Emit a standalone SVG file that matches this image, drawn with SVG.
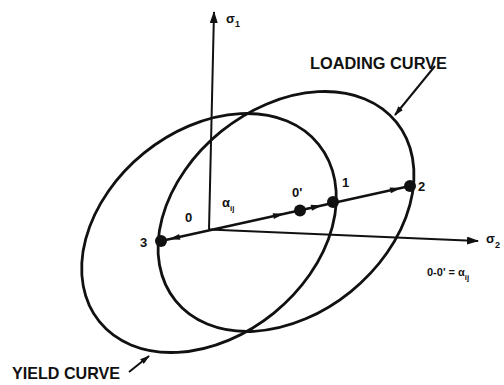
<svg xmlns="http://www.w3.org/2000/svg" xmlns:xlink="http://www.w3.org/1999/xlink" width="504" height="385" viewBox="0 0 504 385">
<style>
.curve{fill:none;stroke:#111;stroke-width:2.8}
.axis{fill:none;stroke:#111;stroke-width:2}
.vec{fill:none;stroke:#111;stroke-width:2.4}
.ptr{fill:none;stroke:#111;stroke-width:2}
.dot{fill:#111}
.t{font-family:"Liberation Sans",Arial,sans-serif;font-weight:bold;fill:#111}
</style>
<defs>
<marker id="axarr" viewBox="0 0 12 8" refX="11" refY="4" markerUnits="userSpaceOnUse" markerWidth="12" markerHeight="8" orient="auto"><path d="M0,0 L12,4 L0,8 Z" fill="#111"/></marker>
<marker id="parr" viewBox="0 0 10 6" refX="9" refY="3" markerUnits="userSpaceOnUse" markerWidth="10" markerHeight="6" orient="auto"><path d="M0,0 L10,3 L0,6 Z" fill="#111"/></marker>
<path id="ah" d="M0,0 L-11,-3 L-11,3 Z" fill="#111"/>
</defs>
<rect width="504" height="385" fill="#fff"/>
<g id="yield-curve"><ellipse class="curve" cx="209" cy="233" rx="141" ry="103" transform="rotate(-39 209 233)"/></g>
<g id="loading-curve"><ellipse class="curve" cx="286" cy="211.5" rx="142" ry="103" transform="rotate(-39 286 211.5)"/></g>
<g id="connectors">
<line class="axis" x1="209" y1="229.5" x2="214" y2="12" marker-end="url(#axarr)"/>
<line class="axis" x1="209" y1="229.5" x2="478" y2="241" marker-end="url(#axarr)"/>
<line class="vec" x1="161" y1="241" x2="410" y2="186"/>
<use xlink:href="#ah" transform="translate(284,213.8) rotate(-12.45)"/>
<use xlink:href="#ah" transform="translate(322,205.4) rotate(-12.45)"/>
<use xlink:href="#ah" transform="translate(401,188) rotate(-12.45)"/>
<use xlink:href="#ah" transform="translate(169,239.2) rotate(167.55)"/>
<line class="ptr" x1="435" y1="66" x2="395" y2="115" marker-end="url(#parr)"/>
<line class="ptr" x1="129" y1="372" x2="149" y2="356" marker-end="url(#parr)"/>
</g>
<g id="p3"><circle class="dot" cx="161" cy="241" r="6"/><text class="t" x="140" y="247" font-size="13">3</text></g>
<g id="p0prime"><circle class="dot" cx="300" cy="210.5" r="6"/><text class="t" x="292" y="197" font-size="13">0'</text></g>
<g id="p1"><circle class="dot" cx="333" cy="202" r="6"/><text class="t" x="342" y="187" font-size="13">1</text></g>
<g id="p2"><circle class="dot" cx="410" cy="186" r="6"/><text class="t" x="418" y="191" font-size="13">2</text></g>
<g id="origin"><text class="t" x="185" y="222" font-size="13">0</text></g>
<g id="alpha-label"><text class="t" x="222" y="207" font-size="13">α<tspan font-size="8" dy="4">ij</tspan></text></g>
<g id="sigma1"><text class="t" x="226" y="23" font-size="13">σ<tspan font-size="9" dy="4">1</tspan></text></g>
<g id="sigma2"><text class="t" x="486" y="243" font-size="13">σ<tspan font-size="9" dy="5">2</tspan></text></g>
<g id="eq"><text class="t" x="427" y="276" font-size="11">0-0' = α<tspan font-size="8" dy="4">ij</tspan></text></g>
<g id="loading-label"><text class="t" x="310" y="69" font-size="16" textLength="137" lengthAdjust="spacingAndGlyphs">LOADING CURVE</text></g>
<g id="yield-label"><text class="t" x="12" y="379" font-size="17" textLength="108" lengthAdjust="spacingAndGlyphs">YIELD CURVE</text></g>
</svg>
